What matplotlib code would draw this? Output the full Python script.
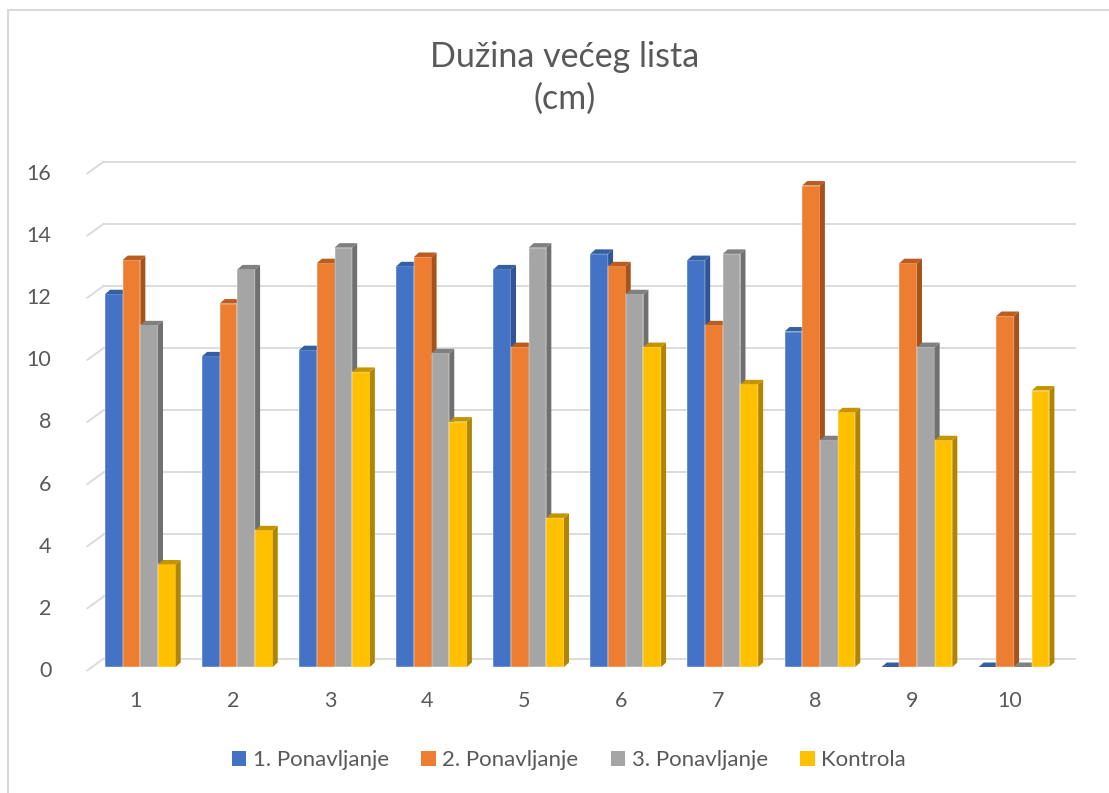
import matplotlib
matplotlib.use("Agg")
import matplotlib.pyplot as plt
from matplotlib.patches import Polygon, Rectangle, Patch
from matplotlib.transforms import ScaledTranslation
from matplotlib.lines import Line2D

plt.rcParams['font.family'] = ['Lato', 'DejaVu Sans']

# ---- data ----
categories = ['1', '2', '3', '4', '5', '6', '7', '8', '9', '10']
series_names = ['1. Ponavljanje', '2. Ponavljanje', '3. Ponavljanje', 'Kontrola']
ponavljanje_1 = [12.0, 10.0, 10.2, 12.9, 12.8, 13.3, 13.1, 10.8, 0.0, 0.0]
ponavljanje_2 = [13.1, 11.7, 13.0, 13.2, 10.3, 12.9, 11.0, 15.5, 13.0, 11.3]
ponavljanje_3 = [11.0, 12.8, 13.5, 10.1, 13.5, 12.0, 13.3, 7.3, 10.3, 0.0]
kontrola = [3.3, 4.4, 9.5, 7.9, 4.8, 10.3, 9.1, 8.2, 7.3, 8.9]
y_ticks = [0, 2, 4, 6, 8, 10, 12, 14, 16]
title_lines = ['Dužina većeg lista', '(cm)']

series = [ponavljanje_1, ponavljanje_2, ponavljanje_3, kontrola]
front_colors = ['#4472C4', '#ED7D31', '#A5A5A5', '#FFC000']
side_colors = ['#2F5597', '#A5531B', '#707070', '#B08500']
top_colors = ['#34609F', '#B95E1F', '#808080', '#C49500']

W, H, DPI = 1109, 793, 100
fig = plt.figure(figsize=(W / DPI, H / DPI), dpi=DPI)
fig.patch.set_facecolor('white')

# axes = plane of the bar front faces
ax_left, ax_right = 91.8, 1062.6
ax_bottom, ax_top = 667.0, 170.0
ax = fig.add_axes([ax_left / W, (H - ax_bottom) / H,
                   (ax_right - ax_left) / W, (ax_bottom - ax_top) / H])
ax.set_xlim(0.5, 10.5)
ax.set_ylim(0, 16)
for s in ax.spines.values():
    s.set_visible(False)
ax.set_facecolor('none')

# pixel -> data conversion factors
px_x = 10.0 / (ax_right - ax_left)
px_y = 16.0 / (ax_bottom - ax_top)

grid_color = '#D9D9D9'
back_dx, back_dy = 12.0 * px_x, 8.5 * px_y
front_dx, front_dy = -4.5 * px_x, -3.5 * px_y
for v in y_ticks:
    ax.add_line(Line2D([0.5 + back_dx, 10.5 + back_dx], [v + back_dy, v + back_dy],
                       color=grid_color, lw=1.3, zorder=1, clip_on=False))
    ax.add_line(Line2D([0.5 + front_dx, 0.5 + back_dx], [v + front_dy, v + back_dy],
                       color=grid_color, lw=1.3, zorder=1, clip_on=False))

# bars with pseudo-3D side and top faces
bw = 0.182
depth_x, depth_y = 5.0 * px_x, 4.5 * px_y
for i, vals in enumerate(series):
    for j, v in enumerate(vals):
        xc = j + 1
        x0 = xc - 2 * bw + i * bw
        x1 = x0 + bw
        z = 3 + i
        if v > 0:
            ax.add_patch(Rectangle((x0, 0), bw, v, facecolor=front_colors[i],
                                   edgecolor='white', linewidth=0.3, zorder=z, clip_on=False))
            ax.add_patch(Polygon([(x1, 0), (x1, v), (x1 + depth_x, v + depth_y), (x1 + depth_x, depth_y)],
                                 closed=True, facecolor=side_colors[i], edgecolor='none',
                                 zorder=z, clip_on=False))
        ax.add_patch(Polygon([(x0, v), (x1, v), (x1 + depth_x, v + depth_y), (x0 + depth_x, v + depth_y)],
                             closed=True, facecolor=top_colors[i], edgecolor='none',
                             zorder=z, clip_on=False))

text_color = '#595959'
ax.set_xticks(range(1, len(categories) + 1))
ax.set_xticklabels(categories, fontsize=15.5, color=text_color)
ax.set_yticks(y_ticks)
ax.set_yticklabels([str(t) for t in y_ticks], fontsize=15.5, color=text_color)
ax.tick_params(axis='both', length=0)
ax.tick_params(axis='x', pad=17)
ax.tick_params(axis='y', pad=29)
for lab in ax.get_xticklabels():
    lab.set_transform(lab.get_transform() + ScaledTranslation(-4.5 / DPI, 0, fig.dpi_scale_trans))
for lab in ax.get_yticklabels():
    lab.set_transform(lab.get_transform() + ScaledTranslation(0, -2 / DPI, fig.dpi_scale_trans))

# title
fig.text(565 / W, (H - 67) / H, title_lines[0], ha='center', va='baseline',
         fontsize=24.5, color=text_color)
fig.text(565 / W, (H - 109) / H, title_lines[1], ha='center', va='baseline',
         fontsize=24.5, color=text_color)

# legend
handles = [Patch(facecolor=c, edgecolor='none') for c in front_colors]
fig.legend(handles, series_names, loc='center', bbox_to_anchor=(569 / W, (H - 760) / H),
           ncol=4, frameon=False, fontsize=16, labelcolor=text_color,
           handlelength=0.65, handleheight=0.65, handletextpad=0.3, columnspacing=1.45)

# chart border (left and top visible)
fig.add_artist(Line2D([8 / W, 8 / W], [0, (H - 10) / H], color='#D9D9D9', lw=1.5))
fig.add_artist(Line2D([8 / W, 1], [(H - 10) / H, (H - 10) / H], color='#D9D9D9', lw=1.5))

fig.savefig('out.png', dpi=DPI, facecolor='white')
